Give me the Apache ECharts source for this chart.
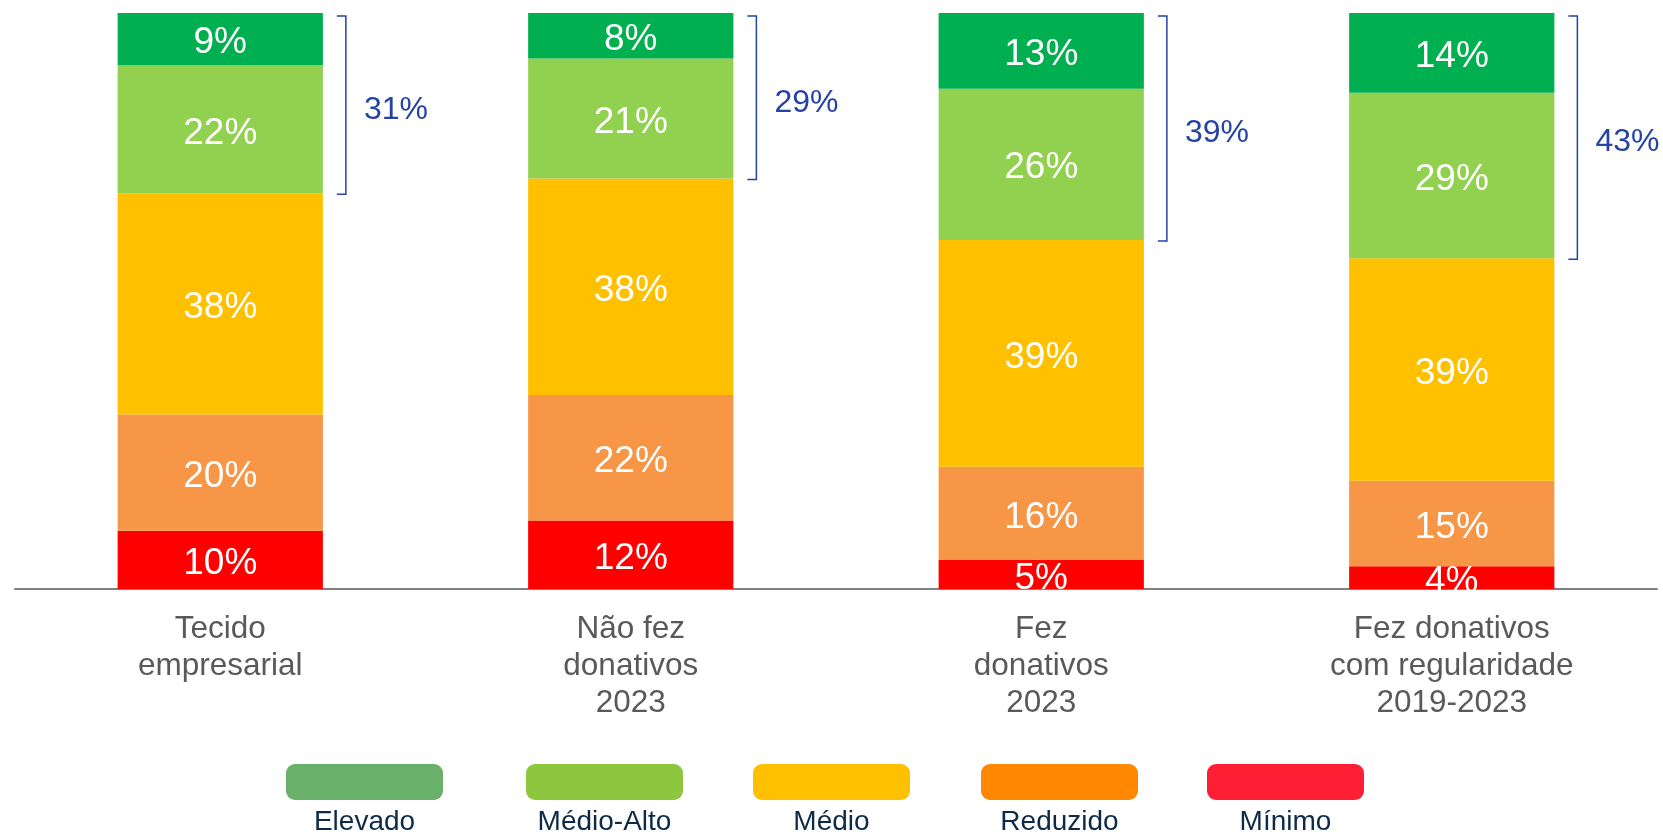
<!DOCTYPE html>
<html lang="pt">
<head>
    <meta charset="UTF-8">
    <title>Níveis por grupo</title>
    <script src="https://cdn.jsdelivr.net/npm/echarts@6/dist/echarts.min.js"></script>
    <style>
        html, body { margin: 0; padding: 0; background: #fff; }
        #chart { width: 1663px; height: 833px; }
    </style>
</head>
<body>
<div id="chart"></div>
<script>
    // categorias (eixo x)
    var categorias = ['Tecido\nempresarial', 'Não fez\ndonativos\n2023', 'Fez\ndonativos\n2023', 'Fez donativos\ncom regularidade\n2019-2023'];

    // valores (%) de cada nível, por categoria
    var minimo    = [10, 12, 5, 4];
    var reduzido  = [20, 22, 16, 15];
    var medio     = [38, 38, 39, 39];
    var medioAlto = [22, 21, 26, 29];
    var elevado   = [9, 8, 13, 14];

    var niveis = ['Mínimo', 'Reduzido', 'Médio', 'Médio-Alto', 'Elevado'];
    var valores = [minimo, reduzido, medio, medioAlto, elevado];
    var coresBarra = ['#ff0000', '#f79646', '#ffc000', '#92d050', '#00b050'];

    // legenda (ordem da esquerda para a direita)
    var legendaNomes = ['Elevado', 'Médio-Alto', 'Médio', 'Reduzido', 'Mínimo'];
    var legendaCores = ['#69b06a', '#8dc63f', '#ffc000', '#ff8800', '#ff1f35'];
    var legendaLeft = [286, 526, 753, 981, 1207];

    // total de cada barra (para empilhar a 100%)
    var totais = categorias.map(function (c, i) {
        return valores.reduce(function (s, arr) { return s + arr[i]; }, 0);
    });

    var series = niveis.map(function (nome, k) {
        return {
            name: nome,
            type: 'bar',
            stack: 'total',
            barWidth: '50%',
            itemStyle: { color: coresBarra[k] },
            label: {
                show: true,
                position: 'inside',
                offset: [0, 4],
                color: '#fff',
                fontSize: 37,
                fontFamily: 'Liberation Sans, Arial, sans-serif',
                formatter: function (p) { return valores[k][p.dataIndex] + '%'; }
            },
            data: valores[k].map(function (v, i) { return v / totais[i] * 100; })
        };
    });

    // chavetas azuis: Elevado + Médio-Alto
    var chavetaDados = categorias.map(function (c, i) {
        var soma = elevado[i] + medioAlto[i];
        return [i, 100, 100 - soma / totais[i] * 100, soma];
    });

    series.push({
        type: 'custom',
        name: 'chaveta',
        silent: true,
        z: 5,
        renderItem: function (params, api) {
            var i = api.value(0);
            var topo = api.coord([i, api.value(1)]);
            var base = api.coord([i, api.value(2)]);
            var largura = api.size([1, 0])[0] * 0.5;
            var x = topo[0] + largura / 2 + 23;
            var y1 = topo[1] + 3;
            var y2 = base[1] + 1;
            return {
                type: 'group',
                children: [{
                    type: 'polyline',
                    shape: { points: [[x - 9, y1], [x, y1], [x, y2], [x - 9, y2]] },
                    style: { stroke: '#2443a4', lineWidth: 1.5, fill: null }
                }, {
                    type: 'text',
                    style: {
                        x: x + 18,
                        y: (y1 + y2) / 2 + 5,
                        text: api.value(3) + '%',
                        fill: '#2443a4',
                        fontSize: 32,
                        fontFamily: 'Liberation Sans, Arial, sans-serif',
                        verticalAlign: 'middle',
                        align: 'left'
                    }
                }]
            };
        },
        data: chavetaDados
    });

    var legendas = legendaNomes.map(function (nome, k) {
        return {
            left: legendaLeft[k],
            top: 764,
            padding: 0,
            itemWidth: 157,
            itemHeight: 36,
            icon: 'roundRect',
            selectedMode: false,
            formatter: function () { return ''; },
            data: [{ name: nome, itemStyle: { color: legendaCores[k] } }]
        };
    });

    var textosLegenda = legendaNomes.map(function (nome, k) {
        return {
            type: 'text',
            x: legendaLeft[k] + 78.5,
            y: 822,
            style: {
                text: nome,
                fill: '#0e2a47',
                fontSize: 28,
                fontFamily: 'Liberation Sans, Arial, sans-serif',
                align: 'center',
                verticalAlign: 'middle'
            }
        };
    });

    var mychart = echarts.init(document.getElementById('chart'));
    var option = {
        animation: false,
        grid: { left: 15, right: 6, top: 13, bottom: 244 },
        legend: legendas,
        graphic: textosLegenda,
        xAxis: {
            type: 'category',
            data: categorias,
            axisLine: { lineStyle: { color: '#808080', width: 2 } },
            axisTick: { show: false },
            axisLabel: {
                color: '#595959',
                fontSize: 31.5,
                lineHeight: 37,
                margin: 22,
                fontFamily: 'Liberation Sans, Arial, sans-serif'
            }
        },
        yAxis: {
            type: 'value',
            min: 0,
            max: 100,
            show: false
        },
        series: series
    };
    mychart.setOption(option);
</script>
</body>
</html>
